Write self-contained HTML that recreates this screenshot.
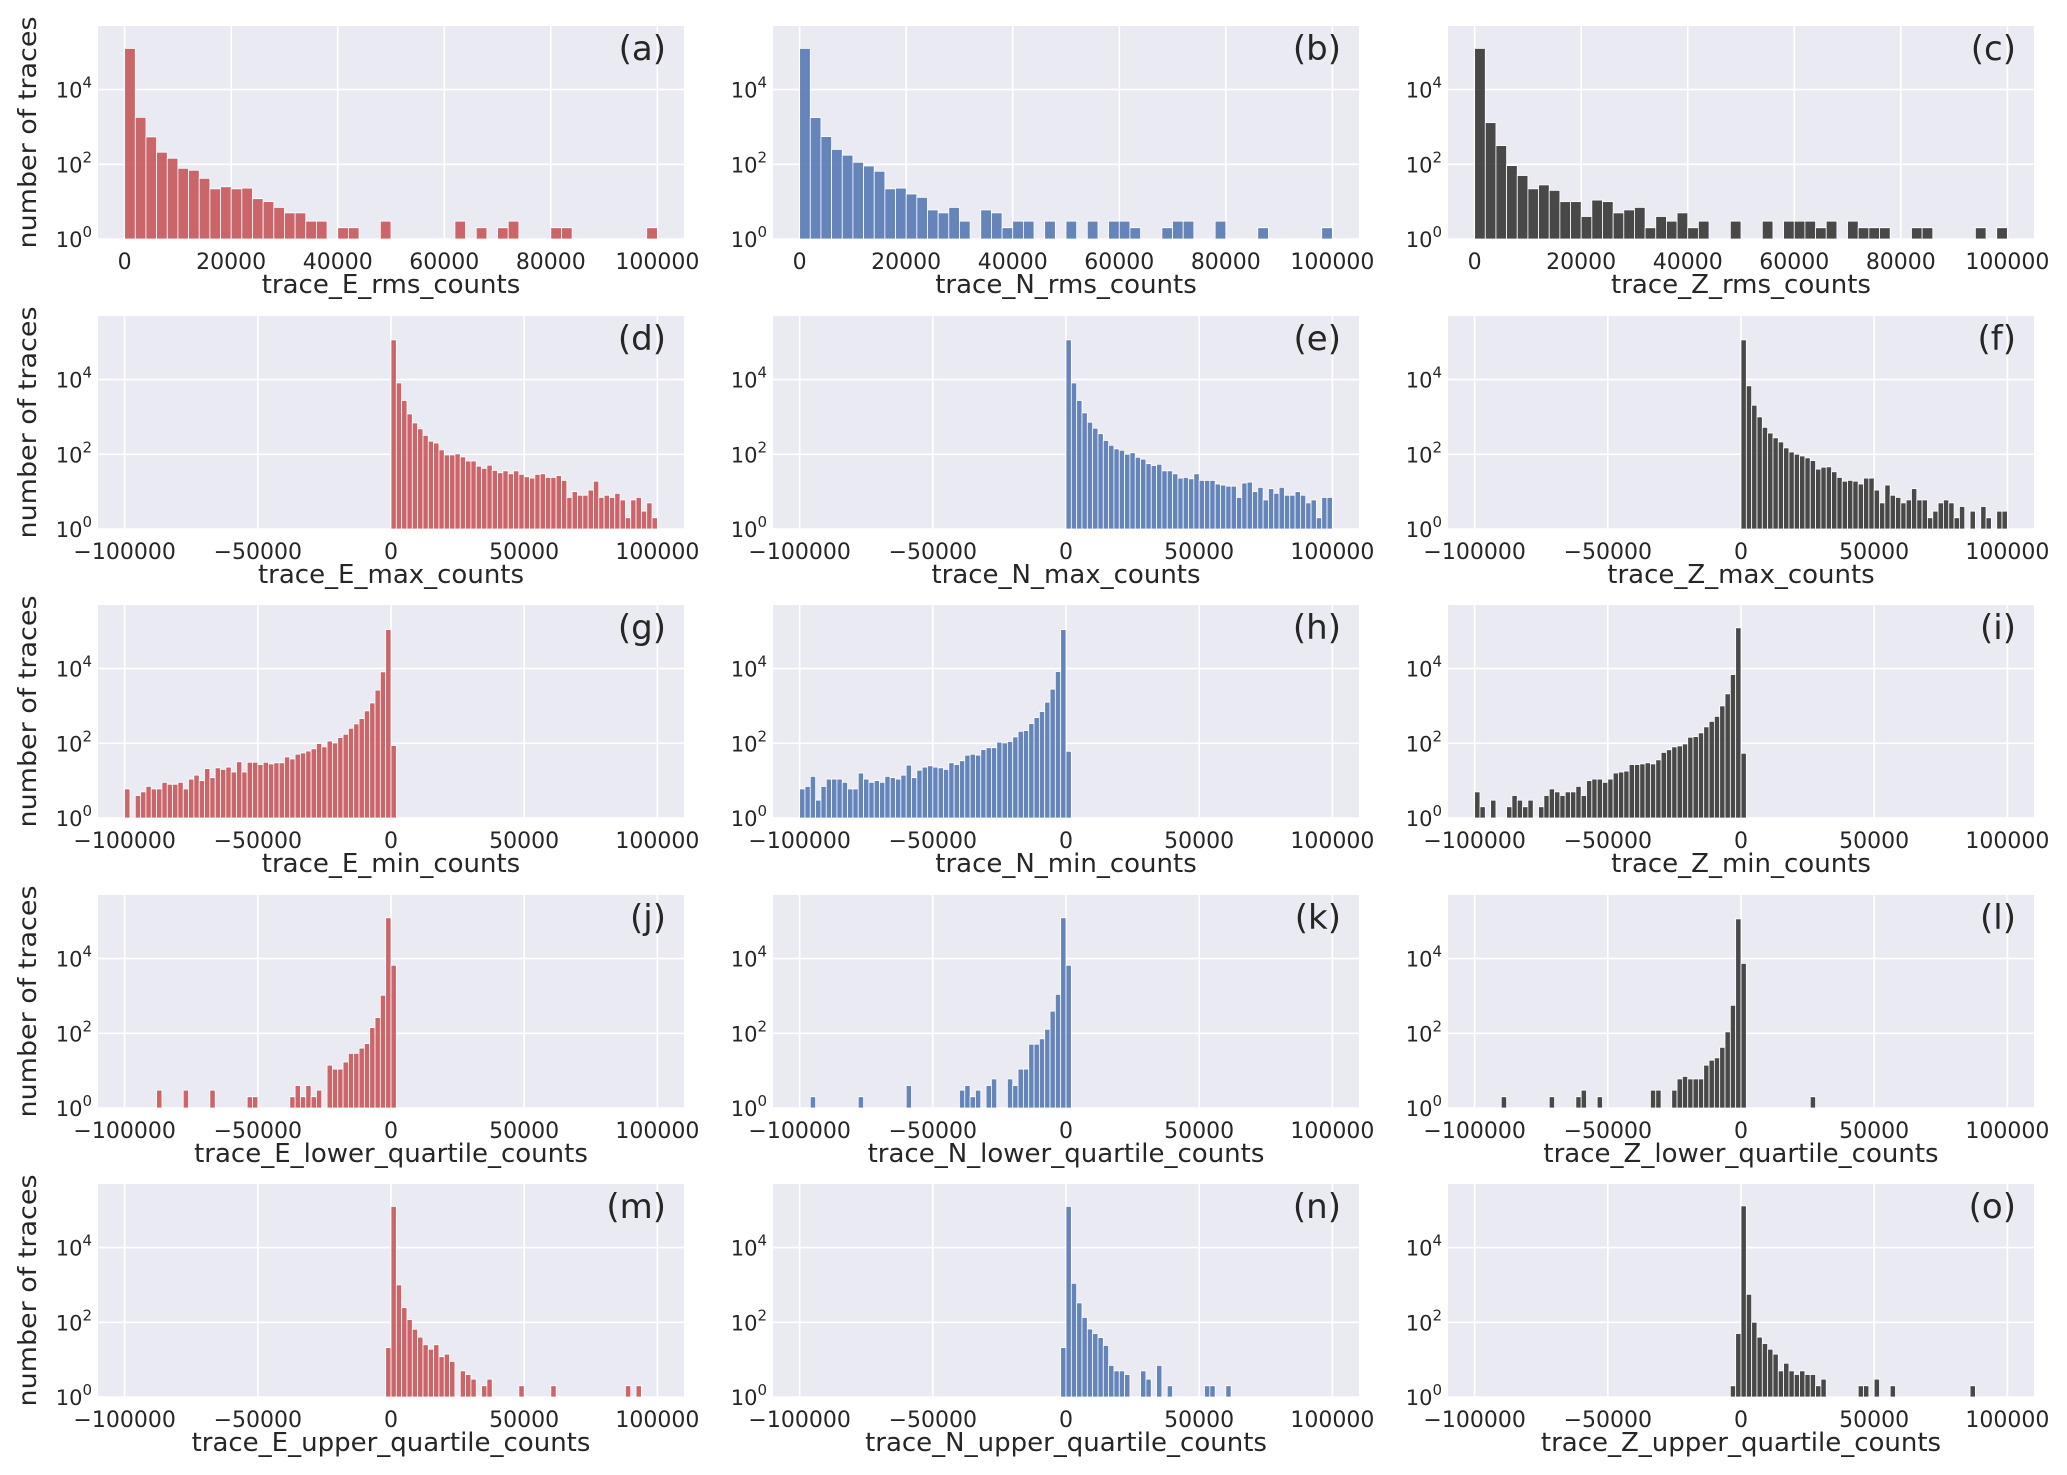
<!DOCTYPE html>
<html>
<head>
<meta charset="utf-8">
<style>
  html, body { margin: 0; padding: 0; background: #ffffff; }
  svg { display: block; }
  text { font-family: "DejaVu Sans", "Liberation Sans", sans-serif; fill: #262626; }
</style>
</head>
<body>
<svg id="chart" xmlns="http://www.w3.org/2000/svg" width="2067" height="1475" viewBox="0 0 2067 1475"></svg>
<script>
// ---------- data ----------
const rmsTicks = [0, 20000, 40000, 60000, 80000, 100000];
const rmsTickLabels = ["0", "20000", "40000", "60000", "80000", "100000"];
const symTicks = [-100000, -50000, 0, 50000, 100000];
const symTickLabels = ["\u2212100000", "\u221250000", "0", "50000", "100000"];
const yTickExps = [0, 2, 4];
const binWidth = 2000;

// row 1 (rms), bins start at 0
const countsA = [126000,1800,540,210,145,78,69,42,22,25,22,23,12,10,7,5,5,3,3,0,2,2,0,0,3,0,0,0,0,0,0,3,0,2,0,2,3,0,0,0,2,2,0,0,0,0,0,0,0,2];
const countsB = [126000,1780,550,250,175,113,90,65,22,23,16,13,6,5,7,3,0,6,5,2,3,3,0,3,0,3,0,3,0,3,3,2,0,0,2,3,3,0,0,3,0,0,0,2,0,0,0,0,0,2];
const countsC = [126000,1300,316,92,50,22,28,20,10,10,4,11,10,5,6,7,2,4,3,5,2,3,0,0,3,0,0,3,0,3,3,3,2,3,0,3,2,2,2,0,0,2,2,0,0,0,0,2,0,2];
// row 2 (max), bins start at 0
const countsD = [115000,8100,2750,1200,690,480,320,224,200,131,96,96,102,85,66,66,48,42,51,37,32,36,30,36,29,25,23,29,30,24,24,27,20,7,10,8,8,11,19,7,8,7,9,6,2,6,7,3,5,2];
const countsE = [115000,8100,2750,1280,720,500,355,234,174,139,128,100,110,83,74,56,50,54,36,36,30,23,24,22,30,20,20,20,16,15,14,14,7,17,18,10,13,6,12,9,13,8,8,10,8,5,6,2,7,7];
const countsF = [115000,6800,2050,1000,525,370,275,214,148,115,100,90,80,68,40,45,46,34,24,19,20,19,16,23,23,11,5,15,8,7,5,6,12,6,6,2,3,5,6,5,2,4,0,3,0,4,2,0,3,3];
// row 3 (min), bins start at -100000
const countsG = [6,0,4,5,7,6,6,9,8,8,9,6,11,14,10,21,12,22,20,23,17,32,17,31,31,27,31,28,30,30,43,38,51,55,62,71,98,80,115,102,142,174,252,330,458,737,1200,2650,8150,110000,87];
const countsH = [6,7,13,3,7,11,11,11,9,6,6,16,11,9,10,9,13,12,11,14,26,12,19,23,25,23,22,20,30,27,34,48,51,48,68,76,76,107,102,112,148,209,219,337,487,707,1260,2800,8300,110000,61];
const countsI = [5,2,0,3,0,0,2,4,3,2,3,0,2,4,6,5,4,5,5,7,4,10,11,11,9,11,16,17,18,27,27,28,30,28,36,57,67,80,85,96,145,151,190,275,385,525,1000,2100,6900,123000,54];
// row 4 (lower quartile), sparse: bin lower edges + counts
const edgesJ = [-88000,-78000,-68000,-54000,-52000,-38000,-36000,-34000,-32000,-30000,-28000,-24000,-22000,-20000,-18000,-16000,-14000,-12000,-10000,-8000,-6000,-4000,-2000,0];
const countsJ = [3,3,3,2,2,2,4,2,4,2,3,14,11,11,17,29,29,40,53,142,263,1040,123000,6600];
const edgesK = [-96000,-78000,-60000,-40000,-38000,-36000,-34000,-30000,-28000,-22000,-20000,-18000,-16000,-14000,-12000,-10000,-8000,-6000,-4000,-2000,0];
const countsK = [2,2,4,3,4,2,3,4,6,6,4,11,11,51,51,71,128,390,1100,123000,6600];
const edgesL = [-90000,-72000,-62000,-60000,-54000,-34000,-32000,-26000,-24000,-22000,-20000,-18000,-16000,-14000,-12000,-10000,-8000,-6000,-4000,-2000,0,26000];
const countsL = [2,2,2,3,2,3,3,3,6,7,6,6,6,14,19,22,42,109,560,115000,7400,2];
// row 5 (upper quartile), sparse
const edgesM = [-2000,0,2000,4000,6000,8000,10000,12000,14000,16000,18000,20000,22000,26000,28000,30000,34000,36000,48000,60000,88000,92000];
const countsM = [21,126000,1000,246,118,65,40,25,19,25,12,14,9,5,4,3,2,3,2,2,2,2];
const edgesN = [-2000,0,2000,4000,6000,8000,10000,12000,14000,16000,18000,20000,22000,28000,30000,34000,38000,52000,54000,60000];
const countsN = [21,126000,1100,330,135,66,50,39,24,7,5,5,4,5,3,7,2,2,2,2];
const edgesO = [-4000,-2000,0,2000,4000,6000,8000,10000,12000,14000,16000,18000,20000,22000,24000,26000,28000,30000,44000,46000,50000,56000,86000];
const countsO = [2,50,130000,560,100,40,27,19,14,5,8,5,4,5,4,4,2,3,2,2,3,2,2];

// ---------- layout ----------
const svg = document.getElementById('chart');
const NS = 'http://www.w3.org/2000/svg';
const colLeft = [98, 773, 1448];
const rowTop = [26, 316, 605, 895, 1184];
const PW = 586, PH = 213;
const LOGMAX = 5.7;
const colors = ['#c44e52', '#4c72b0', '#2b2b2b'];
const comps = ['E', 'N', 'Z'];
const metrics = ['rms', 'max', 'min', 'lower_quartile', 'upper_quartile'];
const letters = 'abcdefghijklmno';

function denseEdges(start, n) {
  const e = [];
  for (let i = 0; i < n; i++) e.push(start + i * binWidth);
  return e;
}

const panels = [
  [{e: denseEdges(0, countsA.length), c: countsA}, {e: denseEdges(0, countsB.length), c: countsB}, {e: denseEdges(0, countsC.length), c: countsC}],
  [{e: denseEdges(0, countsD.length), c: countsD}, {e: denseEdges(0, countsE.length), c: countsE}, {e: denseEdges(0, countsF.length), c: countsF}],
  [{e: denseEdges(-100000, countsG.length), c: countsG}, {e: denseEdges(-100000, countsH.length), c: countsH}, {e: denseEdges(-100000, countsI.length), c: countsI}],
  [{e: edgesJ, c: countsJ}, {e: edgesK, c: countsK}, {e: edgesL, c: countsL}],
  [{e: edgesM, c: countsM}, {e: edgesN, c: countsN}, {e: edgesO, c: countsO}]
];

function el(tag, attrs, parent) {
  const n = document.createElementNS(NS, tag);
  for (const k in attrs) n.setAttribute(k, attrs[k]);
  (parent || svg).appendChild(n);
  return n;
}

for (let r = 0; r < 5; r++) {
  for (let c = 0; c < 3; c++) {
    const L = colLeft[c], T = rowTop[r], B = T + PH;
    const xmin = r === 0 ? -5000 : -110000;
    const xmax = r === 0 ? 105000 : 110000;
    const ticks = r === 0 ? rmsTicks : symTicks;
    const tickLabels = r === 0 ? rmsTickLabels : symTickLabels;
    const xs = v => L + (v - xmin) / (xmax - xmin) * PW;
    const ys = v => B - Math.log10(v) / LOGMAX * PH;
    const idx = r * 3 + c;

    const g = el('g', {});
    
    

    const bg = el('rect', {x: L, y: T, width: PW, height: PH, fill: '#eaeaf2'}, g);
    
    

    for (let t = 0; t < ticks.length; t++) {
      const gl = el('line', {x1: xs(ticks[t]), x2: xs(ticks[t]), y1: T, y2: B, stroke: '#ffffff', 'stroke-width': 1.6}, g);
      
      
    }
    for (let k = 0; k < yTickExps.length; k++) {
      const y = ys(Math.pow(10, yTickExps[k]));
      const gl = el('line', {x1: L, x2: L + PW, y1: y, y2: y, stroke: '#ffffff', 'stroke-width': 1.6}, g);
      
      
    }

    const d = panels[r][c];
    for (let i = 0; i < d.e.length; i++) {
      const v = d.c[i];
      if (!(v > 1)) continue;
      const x0 = xs(d.e[i]), x1 = xs(d.e[i] + binWidth);
      const yt = ys(v);
      const bar = el('rect', {x: x0, y: yt, width: x1 - x0, height: B - yt, fill: colors[c], 'fill-opacity': 0.85, stroke: '#ffffff', 'stroke-width': 0.8}, g);
      
      
    }

    for (let t = 0; t < ticks.length; t++) {
      const tl = el('text', {x: xs(ticks[t]), y: B + 30, 'font-size': 22, 'text-anchor': 'middle'}, g);
      tl.textContent = tickLabels[t];
      
      
    }

    for (let k = 0; k < yTickExps.length; k++) {
      const y = ys(Math.pow(10, yTickExps[k]));
      const yl = el('text', {x: L - 6, y: y + 8, 'font-size': 21, 'text-anchor': 'end'}, g);
      
      
      const base = document.createElementNS(NS, 'tspan');
      base.textContent = '10';
      yl.appendChild(base);
      const sup = document.createElementNS(NS, 'tspan');
      sup.setAttribute('font-size', '15');
      sup.setAttribute('dy', '-10');
      sup.textContent = String(yTickExps[k]);
      yl.appendChild(sup);
    }

    const xt = el('text', {x: L + PW / 2, y: B + 54, 'font-size': 26, 'text-anchor': 'middle'}, g);
    xt.textContent = 'trace_' + comps[c] + '_' + metrics[r] + '_counts';
    
    

    const pl = el('text', {x: L + PW - 18, y: T + 34, 'font-size': 34, 'text-anchor': 'end'}, g);
    pl.textContent = '(' + letters[idx] + ')';
    
    

    if (c === 0) {
      const cy = T + PH / 2;
      const yt2 = el('text', {x: 36, y: cy, 'font-size': 25, 'text-anchor': 'middle', transform: 'rotate(-90 36 ' + cy + ')', textLength: 232, lengthAdjust: 'spacingAndGlyphs'}, g);
      yt2.textContent = 'number of traces';
      
      
    }
  }
}
</script>
</body>
</html>
